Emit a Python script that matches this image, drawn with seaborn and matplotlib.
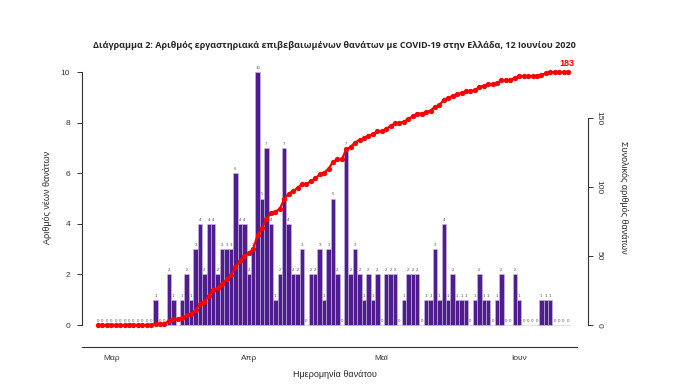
import matplotlib
matplotlib.use("Agg")
import matplotlib.pyplot as plt
import seaborn as sns
import pandas as pd
import numpy as np

# daily deaths, 27 Feb 2020 .. 12 Jun 2020
start_date = "2020-02-27"
daily_deaths = [0, 0, 0, 0, 0, 0, 0, 0, 0, 0, 0, 0, 0, 1, 0, 0, 2, 1, 0, 1,
                2, 1, 3, 4, 2, 4, 4, 2, 3, 3, 3, 6, 4, 4, 2, 3, 10, 5, 7, 4,
                1, 2, 7, 4, 2, 2, 3, 0, 2, 2, 3, 1, 3, 5, 2, 0, 7, 2, 3, 2,
                1, 2, 1, 2, 0, 2, 2, 2, 0, 1, 2, 2, 2, 0, 1, 1, 3, 1, 4, 1,
                2, 1, 1, 1, 0, 1, 2, 1, 1, 0, 1, 2, 0, 0, 2, 1, 0, 0, 0, 0,
                1, 1, 1, 0, 0, 0, 0]
month_ticks = ["2020-03-01", "2020-04-01", "2020-05-01", "2020-06-01"]
month_labels = ["Μαρ", "Απρ", "Μαϊ", "Ιουν"]

dates = pd.date_range(start_date, periods=len(daily_deaths), freq="D")
df = pd.DataFrame({"day": np.arange(len(daily_deaths)), "date": dates,
                   "deaths": daily_deaths})
df["cum"] = df["deaths"].cumsum()

sns.set_style("white")
plt.rcParams["font.family"] = ["Liberation Sans", "DejaVu Sans"]

fig = plt.figure(figsize=(6.8, 3.86), dpi=100)
ax = fig.add_axes([0.1206, 0.1383, 0.744, 0.7013])

sns.barplot(data=df, x="day", y="deaths", color="#4f1d8e", saturation=1,
            width=1.0, edgecolor="#c9bde0", linewidth=0.4, ax=ax)
ax.bar_label(ax.containers[0], labels=[str(v) for v in daily_deaths],
             fontsize=3.2, color="#555555", padding=1.5)

ax.set_xlim(-3.6, 110.5)
ax.set_ylim(-0.3, 10.4)
ax.set_yticks([0, 2, 4, 6, 8, 10])
pos = [int((pd.Timestamp(d) - dates[0]).days) for d in month_ticks]
ax.set_xticks(pos)
ax.set_xticklabels(month_labels)
ax.tick_params(axis="both", labelsize=6, length=3.5, width=0.7,
               colors="#333333", pad=2)
ax.tick_params(axis="y", pad=5)
for s in ["top", "right"]:
    ax.spines[s].set_visible(False)
ax.spines["left"].set_bounds(0, 10)
ax.spines["bottom"].set_position(("outward", 10.4))
ax.spines["bottom"].set_bounds(-3.6, 108)
for s in ["left", "bottom"]:
    ax.spines[s].set_color("#333333")
    ax.spines[s].set_linewidth(0.8)
ax.set_xlabel("Ημερομηνία θανάτου", fontsize=6.5, labelpad=6)
ax.set_ylabel("Αριθμός νέων θανάτων", fontsize=6.5, labelpad=6)

# cumulative on the right axis
ax2 = ax.twinx()
sns.lineplot(data=df, x="day", y="cum", color="#ff0000", linewidth=1.6,
             marker="o", markersize=3.8, markeredgewidth=0, ax=ax2)
k = df["cum"].iloc[-1] / 10
ax2.set_ylim(-0.3 * k, 10.4 * k)
ax2.set_xlim(-3.6, 110.5)
ax2.set_yticks([0, 50, 100, 150])
ax2.tick_params(axis="y", labelsize=6, length=3.5, width=0.7,
                colors="#333333", labelrotation=-90, pad=2)
for lbl in ax2.get_yticklabels():
    lbl.set_va("center")
for s in ["top", "left", "bottom"]:
    ax2.spines[s].set_visible(False)
ax2.spines["right"].set_bounds(0, 150)
ax2.spines["right"].set_color("#333333")
ax2.spines["right"].set_linewidth(0.8)
ax2.set_xlabel("")
ax2.set_ylabel("Συνολικός αριθμός θανάτων", fontsize=6.5, rotation=-90,
               labelpad=18)
ax2.annotate(str(df["cum"].iloc[-1]), (df["day"].iloc[-1], df["cum"].iloc[-1]),
             xytext=(-1, 3), textcoords="offset points", ha="center",
             va="bottom", color="#ff0000", fontsize=6.5, fontweight="bold")

fig.text(0.492, 1 - 45 / 386,
         "Διάγραμμα 2: Αριθμός εργαστηριακά επιβεβαιωμένων θανάτων με COVID-19 στην Ελλάδα, 12 Ιουνίου 2020",
         ha="center", va="center", fontsize=6.5, fontweight="bold",
         family=["Open Sans", "DejaVu Sans"])

fig.savefig("out.png", dpi=100, facecolor="white")
